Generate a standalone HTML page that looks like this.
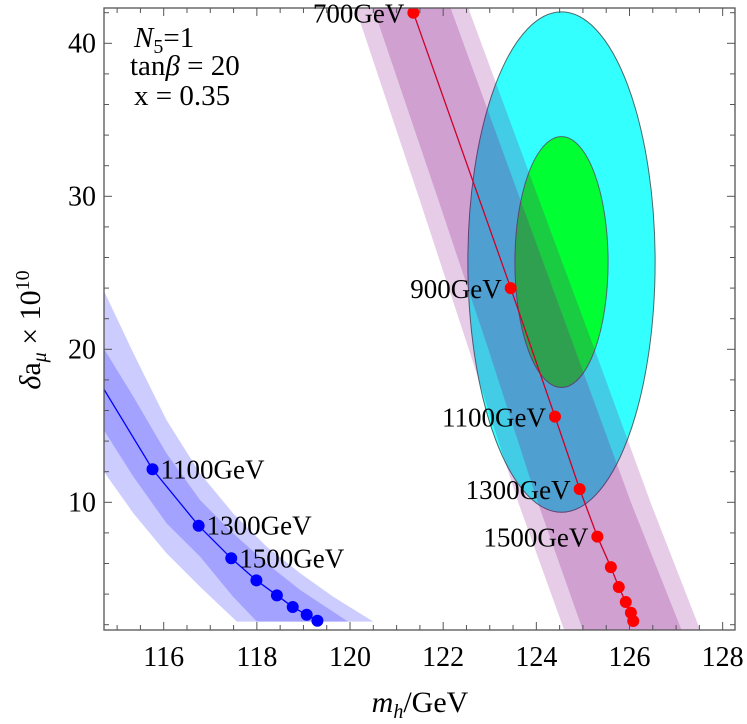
<!DOCTYPE html>
<html><head><meta charset="utf-8"><style>
html,body{margin:0;padding:0;background:#fff}
svg{display:block;font-family:"Liberation Serif",serif}
</style></head><body>
<svg id="c" width="747" height="724" viewBox="0 0 747 724" xmlns="http://www.w3.org/2000/svg">
<defs><clipPath id="clip"><rect x="104" y="8" width="631" height="622"/></clipPath></defs>
<g id="plot" clip-path="url(#clip)"></g>
<g id="axes"></g>
<g id="labels"></g>
<g font-size="29">
<text x="134" y="47"><tspan font-style="italic">N</tspan><tspan font-size="20" dy="6">5</tspan><tspan dy="-6">=1</tspan></text>
<text x="130" y="75">tan<tspan font-style="italic">β</tspan> = 20</text>
<text x="134" y="105">x = 0.35</text>
</g>
<text x="420" y="712" text-anchor="middle" font-size="30"><tspan font-style="italic">m</tspan><tspan font-style="italic" font-size="20" dy="6">h</tspan><tspan dy="-6">/GeV</tspan></text>
<text transform="translate(40,330) rotate(-90)" text-anchor="middle" font-size="30"><tspan font-style="italic">δ</tspan>a<tspan font-style="italic" font-size="20" dy="6">μ</tspan><tspan dy="-6"> × 10</tspan><tspan font-size="20" dy="-11">10</tspan></text>
</svg>
<script>
const xTicks=[116,118,120,122,124,126,128];
const yTicks=[10,20,30,40];
const redMass=[121.36,123.45,124.40,124.93,125.31,125.60,125.77,125.92,126.03,126.08];
const redDamu=[42.0,24.0,15.6,10.86,7.76,5.76,4.46,3.48,2.78,2.24];
const redLabels=["700GeV","900GeV","1100GeV","1300GeV","1500GeV"];
const blueMass=[114.69,115.76,116.75,117.45,117.99,118.43,118.77,119.07,119.30];
const blueDamu=[17.52,12.16,8.47,6.34,4.90,3.92,3.16,2.65,2.26];
const blueLabels=["1100GeV","1300GeV","1500GeV"];
const blueOuterUpX=[114.69,115.35,116.06,116.78,117.49,118.21,118.93,119.64,120.50];
const blueOuterUpY=[23.99,19.74,15.38,11.89,9.28,7.10,5.36,3.83,2.20];
const blueOuterLoX=[114.69,115.35,116.06,116.78,117.57];
const blueOuterLoY=[12.11,9.28,6.67,4.48,2.20];
const blueInnerUpX=[114.69,115.35,116.06,116.78,117.49,118.21,118.93,119.96];
const blueInnerUpY=[20.17,16.90,13.20,10.15,7.97,6.01,4.27,2.20];
const blueInnerLoX=[114.69,115.35,116.06,116.78,117.49,118.0];
const blueInnerLoY=[14.84,11.67,8.63,6.45,3.83,2.20];
const redBandY=[42.3,30,20,10,1.63];
const redOuterLeft=[120.12,121.47,122.55,123.61,124.60];
const redOuterRight=[122.54,124.03,125.25,126.45,127.52];
const redInnerLeft=[120.50,121.87,122.97,124.03,125.00];
const redInnerRight=[122.16,123.63,124.83,126.03,127.12];
const cyanEll=[124.54,25.7,2.01,16.35];
const greenEll=[124.54,25.7,1.0,8.2];

const X=v=>163.7+(v-116)*46.58;
const Y=v=>43.3-(v-40)*15.3;
const NS="http://www.w3.org/2000/svg";
function mk(tag,parent,attrs){const e=document.createElementNS(NS,tag);for(const k in attrs)e.setAttribute(k,attrs[k]);parent.appendChild(e);return e;}
const plot=document.getElementById('plot'),axes=document.getElementById('axes'),labels=document.getElementById('labels');

function ell(d,fill,name){const e=mk('ellipse',plot,{cx:X(d[0]),cy:Y(d[1]),rx:X(d[0]+d[2])-X(d[0]),ry:Y(d[1])-Y(d[1]+d[3]),fill:fill,stroke:'#4a6a6a','stroke-width':1});

}
ell(cyanEll,'#33ffff','cyan-ellipse-2sigma');
ell(greenEll,'#00ff33','green-ellipse-1sigma');

function bandPoly(lx,ly,rx,ry){let p=[];for(let i=0;i<lx.length;i++)p.push(X(lx[i])+','+Y(ly[i]));for(let i=rx.length-1;i>=0;i--)p.push(X(rx[i])+','+Y(ry[i]));return p.join(' ');}
let e;
e=mk('polygon',plot,{points:bandPoly(redOuterLeft,redBandY,redOuterRight,redBandY),fill:'rgba(128,0,128,0.2)'});


e=mk('polygon',plot,{points:bandPoly(redInnerLeft,redBandY,redInnerRight,redBandY),fill:'rgba(128,0,128,0.21)'});


e=mk('polygon',plot,{points:bandPoly(blueOuterLoX,blueOuterLoY,blueOuterUpX,blueOuterUpY),fill:'rgba(0,0,255,0.2)'});


e=mk('polygon',plot,{points:bandPoly(blueInnerLoX,blueInnerLoY,blueInnerUpX,blueInnerUpY),fill:'rgba(0,0,255,0.2)'});



function series(xs,ys,col,lineCol,name){
 e=mk('polyline',plot,{points:xs.map((v,i)=>X(v)+','+Y(ys[i])).join(' '),fill:'none',stroke:lineCol,'stroke-width':1.3});
 
 
 xs.forEach((v,i)=>{ if(name==='blue'&&i===0)return;
  const c=mk('circle',plot,{cx:X(v),cy:Y(ys[i]),r:6,fill:col});
  
  });
}
series(redMass,redDamu,'#ff0000','#d0002a','red');
series(blueMass,blueDamu,'#0000ff','#0000ff','blue');

redLabels.forEach((t,i)=>{const l=mk('text',labels,{x:X(redMass[i])-9,y:Y(redDamu[i])+10,'text-anchor':'end','font-size':27});l.textContent=t;
 
 });
blueLabels.forEach((t,i)=>{const l=mk('text',labels,{x:X(blueMass[i+1])+8,y:Y(blueDamu[i+1])+9,'font-size':27});l.textContent=t;
 
 });

e=mk('rect',axes,{x:104,y:8,width:631,height:622,fill:'none',stroke:'#555','stroke-width':1.3});


for(let v=115;v<=128.3;v+=0.5){const px=X(v);if(px<104||px>735)continue;const major=Math.abs(v-Math.round(v/2)*2)<1e-6;const L=major?8:5;
 mk('line',axes,{x1:px,y1:630,x2:px,y2:630-L,stroke:'#555'});mk('line',axes,{x1:px,y1:8,x2:px,y2:8+L,stroke:'#555'});}
for(let v=2;v<=42;v+=2){const py=Y(v);const major=v%10===0;const L=major?8:5;
 mk('line',axes,{x1:104,y1:py,x2:104+L,y2:py,stroke:'#555'});mk('line',axes,{x1:735,y1:py,x2:735-L,y2:py,stroke:'#555'});}
xTicks.forEach(v=>{const t=mk('text',axes,{x:X(v),y:666,'text-anchor':'middle','font-size':28});t.textContent=v;
 
 });
yTicks.forEach(v=>{const t=mk('text',axes,{x:96,y:Y(v)+9,'text-anchor':'end','font-size':28});t.textContent=v;
 
 });
</script>
</body></html>
